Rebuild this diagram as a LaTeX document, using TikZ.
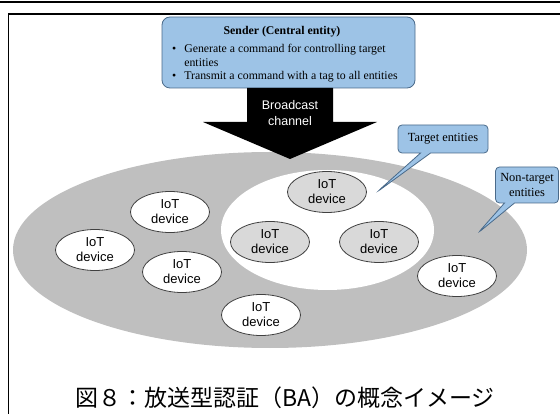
\documentclass[tikz,border=0pt]{standalone}
\usepackage{fontspec}
\setmainfont{Liberation Serif}
\newfontfamily\sansf{Liberation Sans}
\newfontfamily\cjk{Noto Sans CJK JP}
\usetikzlibrary{shapes.geometric,shapes.callouts}
\definecolor{boxblue}{HTML}{9DC3E6}
\definecolor{boxedge}{HTML}{4A6A8A}
\definecolor{outergray}{HTML}{BFBFBF}
\definecolor{tgtgray}{HTML}{D9D9D9}
\definecolor{devedge}{HTML}{404040}
\begin{document}
\begin{tikzpicture}[x=1pt,y=-1pt,
  device/.style={ellipse, draw=devedge, line width=0.8pt, fill=white, minimum width=79pt, minimum height=41pt, inner sep=0pt, align=center, font=\sansf\fontsize{13}{15}\selectfont},
  tdevice/.style={device, fill=tgtgray},
  bubble/.style={rectangle callout, rounded corners=4pt, draw=boxedge, line width=0.8pt, fill=boxblue, align=center, inner sep=0pt, font=\fontsize{12.4}{15}\selectfont, callout pointer width=10pt},
  frameline/.style={line width=1.5pt, black}
]
\useasboundingbox (0,0) rectangle (560,414);
% frame
\draw[line width=2pt] (0,2) -- (560,2);
\draw[frameline] (8.5,414) -- (8.5,14) -- (560,14);
% ellipses
\node[ellipse, fill=outergray, minimum width=514pt, minimum height=196pt, inner sep=0pt] (outer) at (270,250) {};
\node[ellipse, fill=white, minimum width=213pt, minimum height=120pt, inner sep=0pt] (inner) at (327.5,230) {};
% sender
\node[draw=boxedge, fill=boxblue, rounded corners=8pt, line width=0.8pt, minimum width=253pt, minimum height=71pt, inner sep=0pt] (sender) at (288.5,52.5) {};
\node[inner sep=0pt, font=\bfseries\fontsize{11.8}{14}\selectfont] (sendertitle) at (282,32) {Sender (Central entity)};
\node[inner sep=0pt, anchor=north west, font=\fontsize{11.8}{13.5}\selectfont] (senderlist) at (172,43) {%
\begin{tabular}{@{}l@{\hspace{8pt}}l@{}}
• & Generate a command for controlling target\\
 & entities\\
• & Transmit a command with a tag to all entities
\end{tabular}};
% broadcast arrow
\fill[black] (247,88) -- (333,88) -- (333,122) -- (377,122) -- (290,159) -- (203,122) -- (247,122) -- cycle;
\node[font=\sansf\fontsize{12.5}{16}\selectfont, text=white, align=center, inner sep=0pt] (bc) at (290,113) {Broadcast\\channel};
% devices
\node[tdevice] (d1) at (327,192) {IoT\\device};
\node[tdevice] (d2) at (270,242) {IoT\\device};
\node[tdevice] (d3) at (379,242) {IoT\\device};
\node[device] (d4) at (170,212) {IoT\\device};
\node[device] (d5) at (95,250) {IoT\\device};
\node[device] (d6) at (182,272) {IoT\\device};
\node[device] (d7) at (261,315) {IoT\\device};
\node[device] (d8) at (457,276) {IoT\\device};
% callouts
\node[bubble, minimum width=90pt, minimum height=28pt, callout absolute pointer={(377,192)}] (tgt) at (443,139) {Target entities};
\node[bubble, minimum width=63pt, minimum height=36pt, callout absolute pointer={(478,233)}] (ntgt) at (527,185) {Non-target\\entities};
% caption
\node[font=\cjk\fontsize{23}{23}\selectfont, inner sep=0pt] (caption) at (285,398) {図８：放送型認証（BA）の概念イメージ};
\end{tikzpicture}
\end{document}
